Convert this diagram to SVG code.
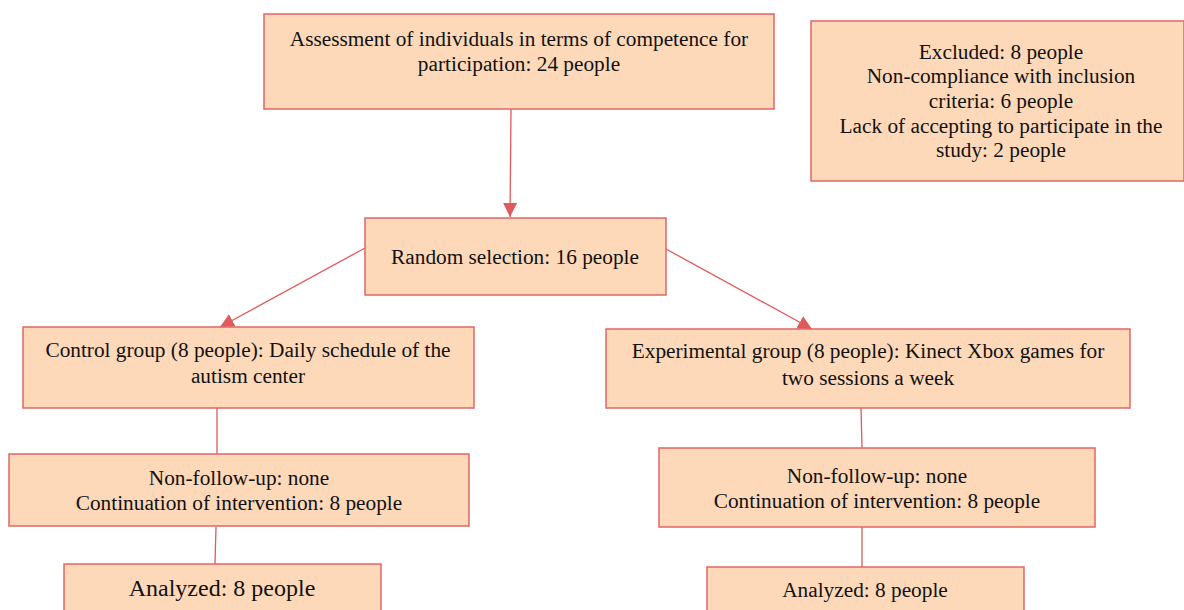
<svg xmlns="http://www.w3.org/2000/svg" width="1184" height="610" viewBox="0 0 1184 610">
<style>
.box{fill:#FDD9B9;stroke:#E06666;stroke-width:1.5}
.t{font-family:"Liberation Serif","Times New Roman",serif;font-size:21.3px;fill:#111;text-anchor:middle}
.big{font-size:24px}
.con{stroke:#E05A5A;stroke-width:1.3;fill:none}
</style>
<defs>
<marker id="ah" markerUnits="userSpaceOnUse" markerWidth="16" markerHeight="16" refX="14" refY="7" orient="auto">
<path d="M0,0 L14,7 L0,14 Z" fill="#E05A5A"/>
</marker>
</defs>
<g id="connectors">
<line class="con" x1="511" y1="109" x2="510" y2="217" marker-end="url(#ah)"/>
<line class="con" x1="365" y1="248" x2="220" y2="327" marker-end="url(#ah)"/>
<line class="con" x1="666" y1="249" x2="812" y2="329" marker-end="url(#ah)"/>
<line class="con" x1="217" y1="408" x2="217" y2="454"/>
<line class="con" x1="216" y1="527" x2="215" y2="564"/>
<line class="con" x1="861" y1="408" x2="862" y2="448"/>
<line class="con" x1="862" y1="527" x2="862" y2="567"/>
</g>
<g id="assessment">
<rect class="box" x="264" y="14" width="510" height="95"/>
<text class="t" x="519" y="46">Assessment of individuals in terms of competence for</text>
<text class="t" x="519" y="71">participation: 24 people</text>
</g>
<g id="excluded">
<rect class="box" x="811" y="21" width="373" height="160"/>
<text class="t" x="1001" y="59">Excluded: 8 people</text>
<text class="t" x="1001" y="83">Non-compliance with inclusion</text>
<text class="t" x="1001" y="108">criteria: 6 people</text>
<text class="t" x="1001" y="133">Lack of accepting to participate in the</text>
<text class="t" x="1001" y="157">study: 2 people</text>
</g>
<g id="random">
<rect class="box" x="365" y="218" width="301" height="77"/>
<text class="t" x="515" y="264">Random selection: 16 people</text>
</g>
<g id="control">
<rect class="box" x="23" y="327" width="451" height="81"/>
<text class="t" x="248" y="357">Control group (8 people): Daily schedule of the</text>
<text class="t" x="248" y="383">autism center</text>
</g>
<g id="experimental">
<rect class="box" x="606" y="329" width="524" height="79"/>
<text class="t" x="868" y="358">Experimental group (8 people): Kinect Xbox games for</text>
<text class="t" x="868" y="385">two sessions a week</text>
</g>
<g id="control-followup">
<rect class="box" x="9" y="454" width="460" height="72"/>
<text class="t" x="239" y="485">Non-follow-up: none</text>
<text class="t" x="239" y="510">Continuation of intervention: 8 people</text>
</g>
<g id="experimental-followup">
<rect class="box" x="659" y="448" width="436" height="79"/>
<text class="t" x="877" y="483">Non-follow-up: none</text>
<text class="t" x="877" y="508">Continuation of intervention: 8 people</text>
</g>
<g id="control-analyzed">
<rect class="box" x="64" y="564" width="317" height="60"/>
<text class="t big" x="222" y="596">Analyzed: 8 people</text>
</g>
<g id="experimental-analyzed">
<rect class="box" x="707" y="567" width="317" height="60"/>
<text class="t" x="865" y="597">Analyzed: 8 people</text>
</g>
</svg>
